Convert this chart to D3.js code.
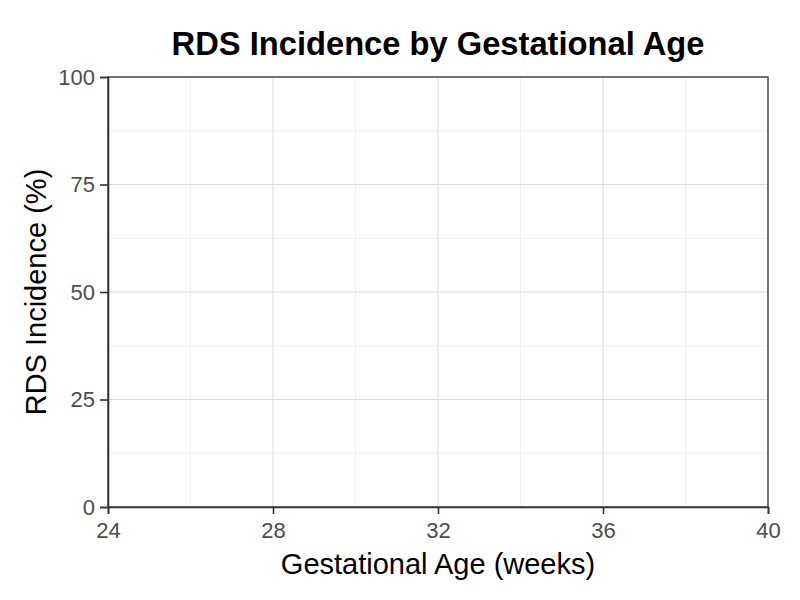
<!DOCTYPE html>
<html>
<head>
<meta charset="utf-8">
<script src="https://cdn.jsdelivr.net/npm/d3@7"></script>
<style>
  body { margin: 0; background: #fff; }
  text { font-family: "Liberation Sans", Arial, sans-serif; }
</style>
</head>
<body>
<div id="container"></div>
<script>
// chart data (the reference panel shows no plotted points)
var gestationalAge = [];
var rdsIncidence = [];

var xDomain = [24, 40];
var yDomain = [0, 100];
var xTicks = [24, 28, 32, 36, 40];
var xMinorTicks = [26, 30, 34, 38];
var yTicks = [0, 25, 50, 75, 100];
var yMinorTicks = [12.5, 37.5, 62.5, 87.5];

var width = 800;
var height = 600;
var margin = { top: 77, right: 32, bottom: 93, left: 108 };

var svg = d3.select('#container').append('svg')
    .attr('width', width)
    .attr('height', height);

var x = d3.scaleLinear().domain(xDomain).range([margin.left, width - margin.right]);
var y = d3.scaleLinear().domain(yDomain).range([height - margin.bottom, margin.top]);

// grid
var grid = svg.append('g');
grid.selectAll('.xminor').data(xMinorTicks).enter().append('line')
    .attr('x1', function (d) { return x(d); })
    .attr('x2', function (d) { return x(d); })
    .attr('y1', y(yDomain[0]))
    .attr('y2', y(yDomain[1]))
    .attr('stroke', '#ebebeb')
    .attr('stroke-width', 0.7);
grid.selectAll('.yminor').data(yMinorTicks).enter().append('line')
    .attr('x1', x(xDomain[0]))
    .attr('x2', x(xDomain[1]))
    .attr('y1', function (d) { return y(d); })
    .attr('y2', function (d) { return y(d); })
    .attr('stroke', '#ebebeb')
    .attr('stroke-width', 0.7);
grid.selectAll('.xmajor').data(xTicks).enter().append('line')
    .attr('x1', function (d) { return x(d); })
    .attr('x2', function (d) { return x(d); })
    .attr('y1', y(yDomain[0]))
    .attr('y2', y(yDomain[1]))
    .attr('stroke', '#d9d9d9')
    .attr('stroke-width', 1);
grid.selectAll('.ymajor').data(yTicks).enter().append('line')
    .attr('x1', x(xDomain[0]))
    .attr('x2', x(xDomain[1]))
    .attr('y1', function (d) { return y(d); })
    .attr('y2', function (d) { return y(d); })
    .attr('stroke', '#d9d9d9')
    .attr('stroke-width', 1);

// series (empty in the reference)
var line = d3.line()
    .x(function (d, i) { return x(gestationalAge[i]); })
    .y(function (d) { return y(d); });
svg.append('path')
    .datum(rdsIncidence)
    .attr('fill', 'none')
    .attr('stroke', '#333')
    .attr('d', line);

// panel border
svg.append('rect')
    .attr('x', x(xDomain[0]))
    .attr('y', y(yDomain[1]))
    .attr('width', x(xDomain[1]) - x(xDomain[0]))
    .attr('height', y(yDomain[0]) - y(yDomain[1]))
    .attr('fill', 'none')
    .attr('stroke', '#333')
    .attr('stroke-width', 1.3);

// axes
var xAxis = svg.append('g')
    .attr('transform', 'translate(0,' + y(yDomain[0]) + ')')
    .call(d3.axisBottom(x).tickValues(xTicks).tickSize(7).tickPadding(8).tickFormat(d3.format('d')));
var yAxis = svg.append('g')
    .attr('transform', 'translate(' + x(xDomain[0]) + ',0)')
    .call(d3.axisLeft(y).tickValues(yTicks).tickSize(8).tickPadding(5).tickFormat(d3.format('d')));

[xAxis, yAxis].forEach(function (a) {
    a.select('.domain').attr('stroke', '#333').attr('stroke-width', 1.6);
    a.selectAll('.tick line').attr('stroke', '#333').attr('stroke-width', 1.6);
    a.selectAll('.tick text')
        .attr('fill', '#4d4d4d')
        .style('font-size', '22px')
        .style('font-family', '"Liberation Sans", Arial, sans-serif');
});

// titles
svg.append('text')
    .attr('x', (x(xDomain[0]) + x(xDomain[1])) / 2)
    .attr('y', 55)
    .attr('text-anchor', 'middle')
    .style('font-size', '32.7px')
    .style('font-weight', 'bold')
    .attr('fill', '#000')
    .text('RDS Incidence by Gestational Age');

svg.append('text')
    .attr('x', (x(xDomain[0]) + x(xDomain[1])) / 2)
    .attr('y', 574)
    .attr('text-anchor', 'middle')
    .style('font-size', '29px')
    .attr('fill', '#000')
    .text('Gestational Age (weeks)');

svg.append('text')
    .attr('transform', 'translate(46,' + (y(yDomain[0]) + y(yDomain[1])) / 2 + ') rotate(-90)')
    .attr('text-anchor', 'middle')
    .style('font-size', '29px')
    .attr('fill', '#000')
    .text('RDS Incidence (%)');
</script>
</body>
</html>
